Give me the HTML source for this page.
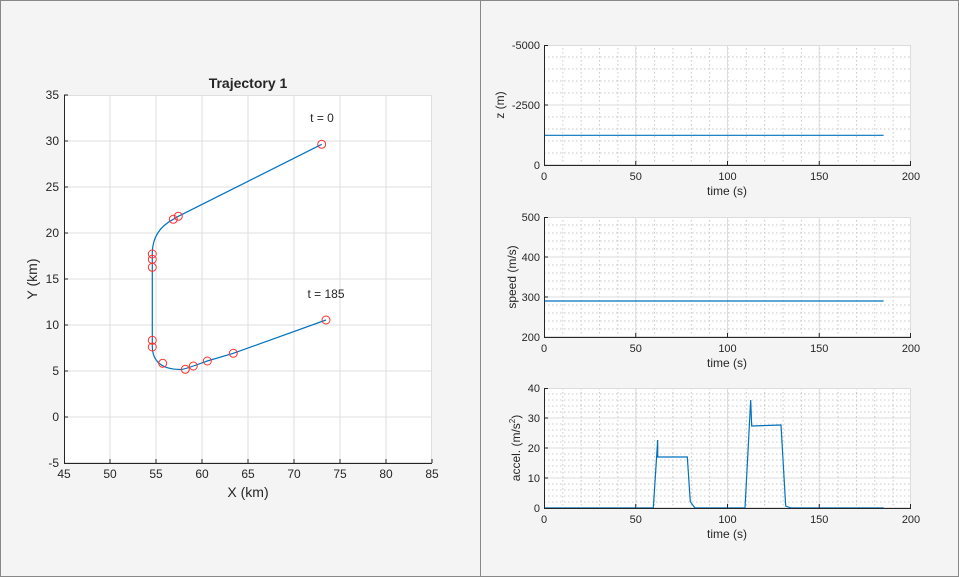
<!DOCTYPE html>
<html><head><meta charset="utf-8"><style>
body{margin:0;width:959px;height:577px;overflow:hidden;background:#f0f0f0;font-family:"Liberation Sans",Arial,sans-serif}
svg{display:block}
</style></head><body>
<svg width="959" height="577" xmlns="http://www.w3.org/2000/svg" font-family="Liberation Sans, Arial, sans-serif" fill="#262626">
<rect x="0" y="0" width="959" height="577" fill="#f4f4f4"/>
<rect x="0.5" y="0.5" width="958" height="576" fill="none" stroke="#888"/>
<line x1="480.5" y1="0" x2="480.5" y2="577" stroke="#888"/>

<!-- Left plot -->
<rect x="64" y="95" width="368" height="368" fill="#fff"/>
<g stroke="#dfdfdf" stroke-width="1">
<line x1="110" y1="95" x2="110" y2="463"/><line x1="156" y1="95" x2="156" y2="463"/><line x1="202" y1="95" x2="202" y2="463"/><line x1="248" y1="95" x2="248" y2="463"/><line x1="294" y1="95" x2="294" y2="463"/><line x1="340" y1="95" x2="340" y2="463"/><line x1="386" y1="95" x2="386" y2="463"/>
<line x1="64" y1="141" x2="432" y2="141"/><line x1="64" y1="187" x2="432" y2="187"/><line x1="64" y1="233" x2="432" y2="233"/><line x1="64" y1="279" x2="432" y2="279"/><line x1="64" y1="325" x2="432" y2="325"/><line x1="64" y1="371" x2="432" y2="371"/><line x1="64" y1="417" x2="432" y2="417"/>
</g>
<rect x="64.5" y="95.5" width="367" height="367" fill="none" stroke="#dfdfdf"/>
<line x1="64.5" y1="95" x2="64.5" y2="463" stroke="#262626"/>
<line x1="64" y1="463.5" x2="432" y2="463.5" stroke="#262626"/>
<g stroke="#262626">
<line x1="64" y1="95" x2="68" y2="95"/><line x1="64" y1="141" x2="68" y2="141"/><line x1="64" y1="187" x2="68" y2="187"/><line x1="64" y1="233" x2="68" y2="233"/><line x1="64" y1="279" x2="68" y2="279"/><line x1="64" y1="325" x2="68" y2="325"/><line x1="64" y1="371" x2="68" y2="371"/><line x1="64" y1="417" x2="68" y2="417"/>
<line x1="110" y1="463" x2="110" y2="459"/><line x1="156" y1="463" x2="156" y2="459"/><line x1="202" y1="463" x2="202" y2="459"/><line x1="248" y1="463" x2="248" y2="459"/><line x1="294" y1="463" x2="294" y2="459"/><line x1="340" y1="463" x2="340" y2="459"/><line x1="386" y1="463" x2="386" y2="459"/><line x1="432" y1="463" x2="432" y2="459"/>
</g>
<g font-size="12" text-anchor="end">
<text x="59" y="99">35</text><text x="59" y="145">30</text><text x="59" y="191">25</text><text x="59" y="237">20</text><text x="59" y="283">15</text><text x="59" y="329">10</text><text x="59" y="375">5</text><text x="59" y="421">0</text><text x="59" y="467">-5</text>
</g>
<g font-size="12" text-anchor="middle">
<text x="64" y="478">45</text><text x="110" y="478">50</text><text x="156" y="478">55</text><text x="202" y="478">60</text><text x="248" y="478">65</text><text x="294" y="478">70</text><text x="340" y="478">75</text><text x="386" y="478">80</text><text x="432" y="478">85</text>
</g>
<text x="248" y="497" font-size="14" text-anchor="middle">X (km)</text>
<text transform="translate(37,279) rotate(-90)" font-size="14" text-anchor="middle">Y (km)</text>
<text x="248" y="88" font-size="14" font-weight="bold" text-anchor="middle">Trajectory 1</text>
<text x="322" y="122" font-size="12" text-anchor="middle">t = 0</text>
<text x="326" y="298" font-size="12" text-anchor="middle">t = 185</text>
<path d="M321.7,144.3 L178.3,216.3 L173.3,219.3 Q153,230 152.3,252 L152.3,347 Q153,369 180,369.5 Q184,369.5 193.3,366 L207.3,361 L233.3,353.3 L326,320" fill="none" stroke="#0072bd" stroke-width="1.2"/>
<g fill="none" stroke="#ff3030" stroke-width="1">
<circle cx="321.7" cy="144.3" r="4"/><circle cx="178.3" cy="216.3" r="4"/><circle cx="173.3" cy="219.3" r="4"/><circle cx="152.3" cy="254" r="4"/><circle cx="152.3" cy="259.3" r="4"/><circle cx="152.3" cy="267.3" r="4"/><circle cx="152.3" cy="340.3" r="4"/><circle cx="152.3" cy="347" r="4"/><circle cx="162.7" cy="363.3" r="4"/><circle cx="185.3" cy="369.3" r="4"/><circle cx="193.3" cy="366" r="4"/><circle cx="207.3" cy="361" r="4"/><circle cx="233.3" cy="353.3" r="4"/><circle cx="326" cy="320" r="4"/>
</g>

<defs>
<pattern id="vminor" x="544" y="0" width="18.35" height="577" patternUnits="userSpaceOnUse">
<line x1="0.5" y1="0" x2="0.5" y2="577" stroke="#c8c8c8" stroke-dasharray="1.5,2.5"/>
</pattern>
</defs>

<!-- Plot 1: z -->
<rect x="544" y="45" width="367" height="120" fill="#fff"/>
<rect x="544" y="45" width="367" height="120" fill="url(#vminor)"/>
<g stroke="#c8c8c8" stroke-dasharray="1.5,2.5">
<line x1="544" y1="57" x2="911" y2="57"/><line x1="544" y1="69" x2="911" y2="69"/><line x1="544" y1="81" x2="911" y2="81"/><line x1="544" y1="93" x2="911" y2="93"/><line x1="544" y1="117" x2="911" y2="117"/><line x1="544" y1="129" x2="911" y2="129"/><line x1="544" y1="141" x2="911" y2="141"/><line x1="544" y1="153" x2="911" y2="153"/>
</g>
<g stroke="#dcdcdc">
<line x1="544" y1="105" x2="911" y2="105"/>
<line x1="635.75" y1="45" x2="635.75" y2="165"/><line x1="727.5" y1="45" x2="727.5" y2="165"/><line x1="819.25" y1="45" x2="819.25" y2="165"/>
<rect x="544.5" y="45.5" width="366" height="119" fill="none"/>
</g>
<line x1="544.5" y1="45" x2="544.5" y2="165" stroke="#262626"/>
<line x1="544" y1="165.5" x2="911" y2="165.5" stroke="#262626"/>
<g stroke="#262626"><line x1="544" y1="45.5" x2="548" y2="45.5"/><line x1="544" y1="105" x2="548" y2="105"/><line x1="635.75" y1="165" x2="635.75" y2="161"/><line x1="727.5" y1="165" x2="727.5" y2="161"/><line x1="819.25" y1="165" x2="819.25" y2="161"/><line x1="910.5" y1="165" x2="910.5" y2="161"/></g>
<line x1="545" y1="135.3" x2="883.6" y2="135.3" stroke="#0072bd" stroke-width="1.2"/>
<g font-size="11" text-anchor="end"><text x="540" y="49">-5000</text><text x="540" y="109">-2500</text><text x="540" y="169">0</text></g>
<g font-size="11" text-anchor="middle"><text x="544" y="180">0</text><text x="635.75" y="180">50</text><text x="727.5" y="180">100</text><text x="819.25" y="180">150</text><text x="911" y="180">200</text></g>
<text x="727" y="195" font-size="12" text-anchor="middle">time (s)</text>
<text transform="translate(504,105) rotate(-90)" font-size="12" text-anchor="middle">z (m)</text>

<!-- Plot 2: speed -->
<rect x="544" y="217" width="367" height="120" fill="#fff"/>
<rect x="544" y="217" width="367" height="120" fill="url(#vminor)"/>
<g stroke="#c8c8c8" stroke-dasharray="1.5,2.5">
<line x1="544" y1="225" x2="911" y2="225"/><line x1="544" y1="233" x2="911" y2="233"/><line x1="544" y1="241" x2="911" y2="241"/><line x1="544" y1="249" x2="911" y2="249"/>
<line x1="544" y1="265" x2="911" y2="265"/><line x1="544" y1="273" x2="911" y2="273"/><line x1="544" y1="281" x2="911" y2="281"/><line x1="544" y1="289" x2="911" y2="289"/>
<line x1="544" y1="305" x2="911" y2="305"/><line x1="544" y1="313" x2="911" y2="313"/><line x1="544" y1="321" x2="911" y2="321"/><line x1="544" y1="329" x2="911" y2="329"/>
</g>
<g stroke="#dcdcdc">
<line x1="544" y1="257" x2="911" y2="257"/><line x1="544" y1="297" x2="911" y2="297"/>
<line x1="635.75" y1="217" x2="635.75" y2="337"/><line x1="727.5" y1="217" x2="727.5" y2="337"/><line x1="819.25" y1="217" x2="819.25" y2="337"/>
<rect x="544.5" y="217.5" width="366" height="119" fill="none"/>
</g>
<line x1="544.5" y1="217" x2="544.5" y2="337" stroke="#262626"/>
<line x1="544" y1="337.5" x2="911" y2="337.5" stroke="#262626"/>
<g stroke="#262626"><line x1="544" y1="217.5" x2="548" y2="217.5"/><line x1="544" y1="257" x2="548" y2="257"/><line x1="544" y1="297" x2="548" y2="297"/><line x1="635.75" y1="337" x2="635.75" y2="333"/><line x1="727.5" y1="337" x2="727.5" y2="333"/><line x1="819.25" y1="337" x2="819.25" y2="333"/><line x1="910.5" y1="337" x2="910.5" y2="333"/></g>
<line x1="545" y1="301" x2="883.6" y2="301" stroke="#0072bd" stroke-width="1.2"/>
<g font-size="11" text-anchor="end"><text x="540" y="221">500</text><text x="540" y="261">400</text><text x="540" y="301">300</text><text x="540" y="341">200</text></g>
<g font-size="11" text-anchor="middle"><text x="544" y="352">0</text><text x="635.75" y="352">50</text><text x="727.5" y="352">100</text><text x="819.25" y="352">150</text><text x="911" y="352">200</text></g>
<text x="727" y="367" font-size="12" text-anchor="middle">time (s)</text>
<text transform="translate(516,277) rotate(-90)" font-size="12" text-anchor="middle">speed (m/s)</text>

<!-- Plot 3: accel -->
<rect x="544" y="388" width="367" height="120" fill="#fff"/>
<rect x="544" y="388" width="367" height="120" fill="url(#vminor)"/>
<g stroke="#c8c8c8" stroke-dasharray="1.5,2.5">
<line x1="544" y1="394" x2="911" y2="394"/><line x1="544" y1="400" x2="911" y2="400"/><line x1="544" y1="406" x2="911" y2="406"/><line x1="544" y1="412" x2="911" y2="412"/>
<line x1="544" y1="424" x2="911" y2="424"/><line x1="544" y1="430" x2="911" y2="430"/><line x1="544" y1="436" x2="911" y2="436"/><line x1="544" y1="442" x2="911" y2="442"/>
<line x1="544" y1="454" x2="911" y2="454"/><line x1="544" y1="460" x2="911" y2="460"/><line x1="544" y1="466" x2="911" y2="466"/><line x1="544" y1="472" x2="911" y2="472"/>
<line x1="544" y1="484" x2="911" y2="484"/><line x1="544" y1="490" x2="911" y2="490"/><line x1="544" y1="496" x2="911" y2="496"/><line x1="544" y1="502" x2="911" y2="502"/>
</g>
<g stroke="#dcdcdc">
<line x1="544" y1="418" x2="911" y2="418"/><line x1="544" y1="448" x2="911" y2="448"/><line x1="544" y1="478" x2="911" y2="478"/>
<line x1="635.75" y1="388" x2="635.75" y2="508"/><line x1="727.5" y1="388" x2="727.5" y2="508"/><line x1="819.25" y1="388" x2="819.25" y2="508"/>
<rect x="544.5" y="388.5" width="366" height="119" fill="none"/>
</g>
<polyline points="545,508 653.3,508 657.7,440 657.7,457 687.3,457 690.3,501.7 695,508 745,508 750.7,400 751.7,426 781,425 785.7,506 791,508 883.6,508" fill="none" stroke="#0072bd" stroke-width="1.2"/>
<line x1="544.5" y1="388" x2="544.5" y2="508" stroke="#262626"/>
<line x1="544" y1="508.5" x2="911" y2="508.5" stroke="#262626"/>
<g stroke="#262626"><line x1="544" y1="388.5" x2="548" y2="388.5"/><line x1="544" y1="418" x2="548" y2="418"/><line x1="544" y1="448" x2="548" y2="448"/><line x1="544" y1="478" x2="548" y2="478"/><line x1="635.75" y1="508" x2="635.75" y2="504"/><line x1="727.5" y1="508" x2="727.5" y2="504"/><line x1="819.25" y1="508" x2="819.25" y2="504"/><line x1="910.5" y1="508" x2="910.5" y2="504"/></g>
<g font-size="11" text-anchor="end"><text x="540" y="392">40</text><text x="540" y="422">30</text><text x="540" y="452">20</text><text x="540" y="482">10</text><text x="540" y="512">0</text></g>
<g font-size="11" text-anchor="middle"><text x="544" y="523">0</text><text x="635.75" y="523">50</text><text x="727.5" y="523">100</text><text x="819.25" y="523">150</text><text x="911" y="523">200</text></g>
<text x="727" y="538" font-size="12" text-anchor="middle">time (s)</text>
<text transform="translate(520,448) rotate(-90)" font-size="12" text-anchor="middle">accel. (m/s<tspan font-size="8" dy="-5">2</tspan><tspan dy="5">)</tspan></text>
</svg>
</body></html>
